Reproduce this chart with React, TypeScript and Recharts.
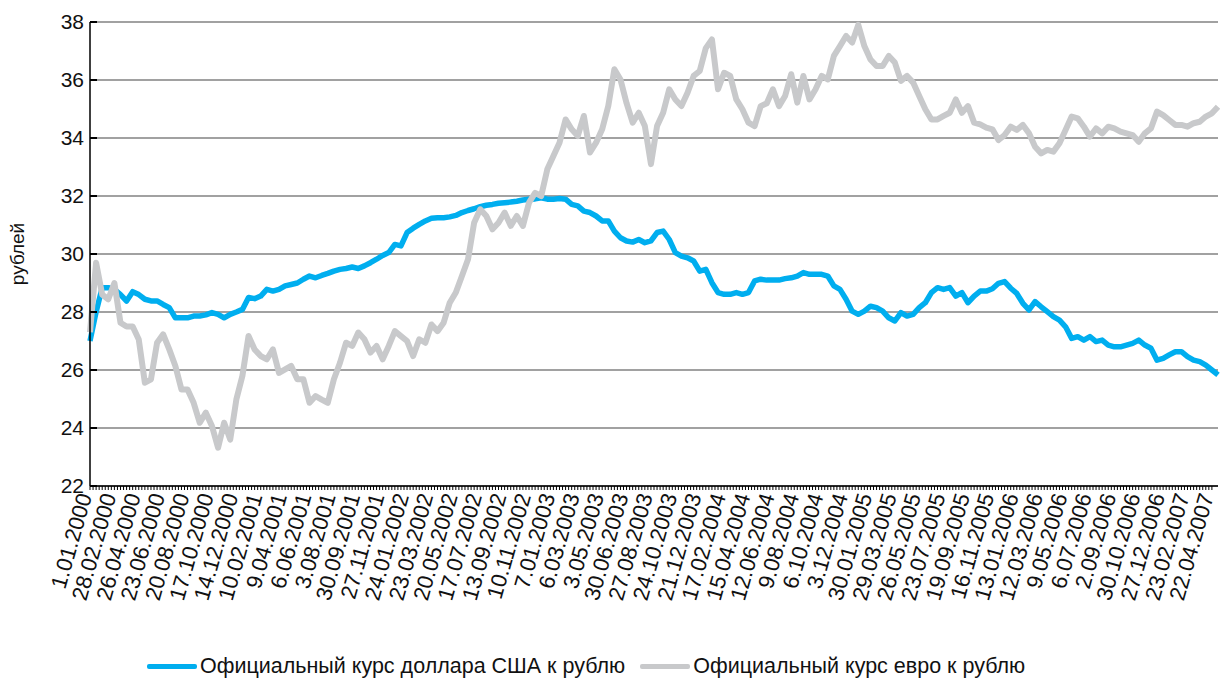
import React from "react";
import { LineChart, Line, XAxis, YAxis, CartesianGrid } from "recharts";

// sampling step of the series, in days from 1.01.2000
const STEP = 14.5;
const LABEL_EVERY = 58; // days between date labels
const MINOR_PER_LABEL = 8;

const dateLabels = [
  "1.01.2000", "28.02.2000", "26.04.2000", "23.06.2000", "20.08.2000", "17.10.2000", "14.12.2000",
  "10.02.2001", "9.04.2001", "6.06.2001", "3.08.2001", "30.09.2001", "27.11.2001",
  "24.01.2002", "23.03.2002", "20.05.2002", "17.07.2002", "13.09.2002", "10.11.2002",
  "7.01.2003", "6.03.2003", "3.05.2003", "30.06.2003", "27.08.2003", "24.10.2003", "21.12.2003",
  "17.02.2004", "15.04.2004", "12.06.2004", "9.08.2004", "6.10.2004", "3.12.2004",
  "30.01.2005", "29.03.2005", "26.05.2005", "23.07.2005", "19.09.2005", "16.11.2005",
  "13.01.2006", "12.03.2006", "9.05.2006", "6.07.2006", "2.09.2006", "30.10.2006", "27.12.2006",
  "23.02.2007", "22.04.2007",
];

const usdRate = [
  27.0, 28.0, 28.84, 28.84, 28.78, 28.6, 28.38, 28.7, 28.6, 28.44,
  28.38, 28.38, 28.26, 28.15, 27.8, 27.8, 27.8, 27.86, 27.86, 27.9,
  27.98, 27.92, 27.8, 27.92, 28.0, 28.09, 28.5, 28.46, 28.55, 28.78,
  28.72, 28.78, 28.9, 28.95, 29.0, 29.13, 29.24, 29.18, 29.26, 29.33,
  29.41, 29.47, 29.5, 29.55, 29.5, 29.59, 29.7, 29.82, 29.95, 30.05,
  30.33, 30.28, 30.74, 30.89, 31.02, 31.14, 31.23, 31.25, 31.25, 31.28,
  31.33, 31.43, 31.5, 31.56, 31.63, 31.68, 31.71, 31.75, 31.77, 31.79,
  31.82, 31.86, 31.89, 31.9, 31.94, 31.89, 31.89, 31.91, 31.89, 31.71,
  31.66, 31.48, 31.43, 31.31, 31.14, 31.14, 30.79, 30.56, 30.45, 30.41,
  30.5, 30.39, 30.45, 30.74, 30.79, 30.5, 30.05, 29.93, 29.87, 29.76,
  29.41, 29.47, 29.01, 28.67, 28.61, 28.61, 28.67, 28.61, 28.67, 29.07,
  29.13, 29.1, 29.1, 29.1, 29.15, 29.18, 29.24, 29.36, 29.3, 29.3,
  29.3, 29.24, 28.9, 28.78, 28.44, 28.03, 27.92, 28.03, 28.2, 28.15,
  28.03, 27.8, 27.69, 27.98, 27.86, 27.92, 28.15, 28.32, 28.67, 28.84,
  28.78, 28.84, 28.55, 28.67, 28.32, 28.55, 28.72, 28.72, 28.8, 28.99,
  29.05, 28.82, 28.64, 28.3, 28.07, 28.36, 28.18, 28.01, 27.84, 27.72,
  27.49, 27.09, 27.15, 27.03, 27.15, 26.98, 27.03, 26.86, 26.8, 26.8,
  26.86, 26.92, 27.03, 26.86, 26.75, 26.34, 26.4, 26.52, 26.63, 26.63,
  26.46, 26.34, 26.29, 26.17, 26.0, 25.83,
];

const eurRate = [
  27.3, 29.7, 28.6, 28.44, 29.0, 27.63, 27.5, 27.5, 27.05, 25.56,
  25.68, 26.94, 27.23, 26.71, 26.14, 25.33, 25.33, 24.87, 24.18, 24.53,
  24.07, 23.32, 24.18, 23.6, 24.98, 25.8, 27.17, 26.71, 26.48, 26.37,
  26.71, 25.9, 26.02, 26.14, 25.68, 25.68, 24.87, 25.1, 24.98, 24.87,
  25.68, 26.25, 26.94, 26.83, 27.29, 27.06, 26.6, 26.83, 26.37, 26.83,
  27.34, 27.17, 27.0, 26.48, 27.06, 26.94, 27.57, 27.34, 27.63, 28.32,
  28.67, 29.24, 29.82, 31.08, 31.54, 31.31, 30.85, 31.08, 31.43, 30.97,
  31.31, 30.97, 31.77, 32.11, 32.0, 32.92, 33.38, 33.84, 34.64, 34.3,
  34.07, 34.76, 33.5, 33.84, 34.3, 35.1, 36.37, 36.02, 35.2, 34.53,
  34.87, 34.41, 33.1, 34.41, 34.87, 35.68, 35.33, 35.1, 35.56, 36.14,
  36.31, 37.1, 37.4, 35.68, 36.25, 36.14, 35.33, 34.99, 34.53, 34.41,
  35.1, 35.2, 35.68, 35.1, 35.45, 36.2, 35.22, 36.14, 35.33, 35.68,
  36.14, 36.02, 36.83, 37.17, 37.52, 37.29, 37.9, 37.17, 36.71, 36.48,
  36.48, 36.83, 36.6, 35.97, 36.14, 35.91, 35.45, 34.99, 34.64, 34.64,
  34.76, 34.87, 35.33, 34.87, 35.1, 34.53, 34.47, 34.36, 34.3, 33.93,
  34.1, 34.39, 34.28, 34.45, 34.16, 33.7, 33.47, 33.59, 33.53, 33.82,
  34.28, 34.74, 34.68, 34.39, 34.05, 34.33, 34.16, 34.39, 34.33, 34.22,
  34.16, 34.1, 33.87, 34.16, 34.33, 34.91, 34.79, 34.62, 34.45, 34.45,
  34.39, 34.51, 34.56, 34.74, 34.85, 35.08,
];

const yTicks = [22, 24, 26, 28, 30, 32, 34, 36, 38];

const USD_COLOR = "#00aeef";
const EUR_COLOR = "#c8c9cb";
const FONT = "'Liberation Sans', Arial, sans-serif";

const data = usdRate.map((v, i) => ({ day: i * STEP, usd: v, eur: eurRate[i] }));
const lastDay = (usdRate.length - 1) * STEP;
const xTicks = Array.from(
  { length: (dateLabels.length - 1) * MINOR_PER_LABEL + 1 },
  (_, i) => (i * LABEL_EVERY) / MINOR_PER_LABEL
);

function DateTick(props: any) {
  const { x, y, index } = props;
  if (index % MINOR_PER_LABEL !== 0) return null;
  const label = dateLabels[index / MINOR_PER_LABEL];
  const ax = x + 2;
  const ay = y + 6;
  return (
    <text x={ax} y={ay} transform={`rotate(-74 ${ax} ${ay})`} textAnchor="end" fontSize={22} fontFamily={FONT} fill="#111">
      {label}
    </text>
  );
}

function RateTick(props: any) {
  const { x, y, payload } = props;
  return (
    <g>
      <line x1={x + 6} x2={x + 13} y1={y} y2={y} stroke="#000" strokeWidth={2} />
      <text x={x} y={y} dy={7} textAnchor="end" fontSize={21} fontFamily={FONT} fill="#111">
        {payload.value}
      </text>
    </g>
  );
}

function UnitLabel(props: any) {
  const { viewBox } = props;
  const cx = viewBox.x + 17;
  const cy = viewBox.y + viewBox.height / 2;
  return (
    <text x={cx} y={cy} transform={`rotate(-90 ${cx} ${cy})`} textAnchor="middle" dominantBaseline="central" fontSize={19} fontFamily={FONT} fill="#111">
      рублей
    </text>
  );
}

const legendItems = [
  { name: "Официальный курс доллара США к рублю", color: USD_COLOR },
  { name: "Официальный курс евро к рублю", color: EUR_COLOR },
];

export default function App() {
  return (
    <div style={{ position: "relative", width: 1220, height: 682, background: "#fff" }}>
      <style>{"body{margin:0}"}</style>
      <LineChart width={1220} height={682} data={data} margin={{ top: 22, right: 2, left: 0, bottom: 0 }}>
        <CartesianGrid horizontal vertical={false} stroke="#444" strokeWidth={1.2} />
        <XAxis
          type="number"
          dataKey="day"
          domain={[0, lastDay]}
          ticks={xTicks}
          interval={0}
          height={196}
          axisLine={{ stroke: "#000", strokeWidth: 1.5 }}
          tickLine={{ stroke: "#000" }}
          tickSize={4}
          tickMargin={0}
          tick={<DateTick />}
        />
        <YAxis
          type="number"
          domain={[22, 38]}
          ticks={yTicks}
          interval={0}
          width={90}
          axisLine={{ stroke: "#000", strokeWidth: 1.5 }}
          tickLine={false}
          tickSize={0}
          tickMargin={6}
          tick={<RateTick />}
          label={{ content: <UnitLabel /> }}
        />
        <Line type="linear" dataKey="usd" stroke={USD_COLOR} strokeWidth={5.5} dot={false} strokeLinejoin="round" isAnimationActive={false} />
        <Line type="linear" dataKey="eur" stroke={EUR_COLOR} strokeWidth={6} dot={false} strokeLinejoin="round" isAnimationActive={false} />
      </LineChart>
      <div style={{ position: "absolute", left: 147, top: 654, display: "flex", alignItems: "center", fontFamily: FONT, fontSize: 21.5, color: "#111", whiteSpace: "nowrap" }}>
        {legendItems.map((it, k) => (
          <div key={it.name} style={{ display: "flex", alignItems: "center", marginRight: k === 0 ? 15 : 0 }}>
            <span style={{ display: "inline-block", width: 50, height: 5, background: it.color, borderRadius: 2, marginRight: 3 }} />
            <span>{it.name}</span>
          </div>
        ))}
      </div>
    </div>
  );
}
